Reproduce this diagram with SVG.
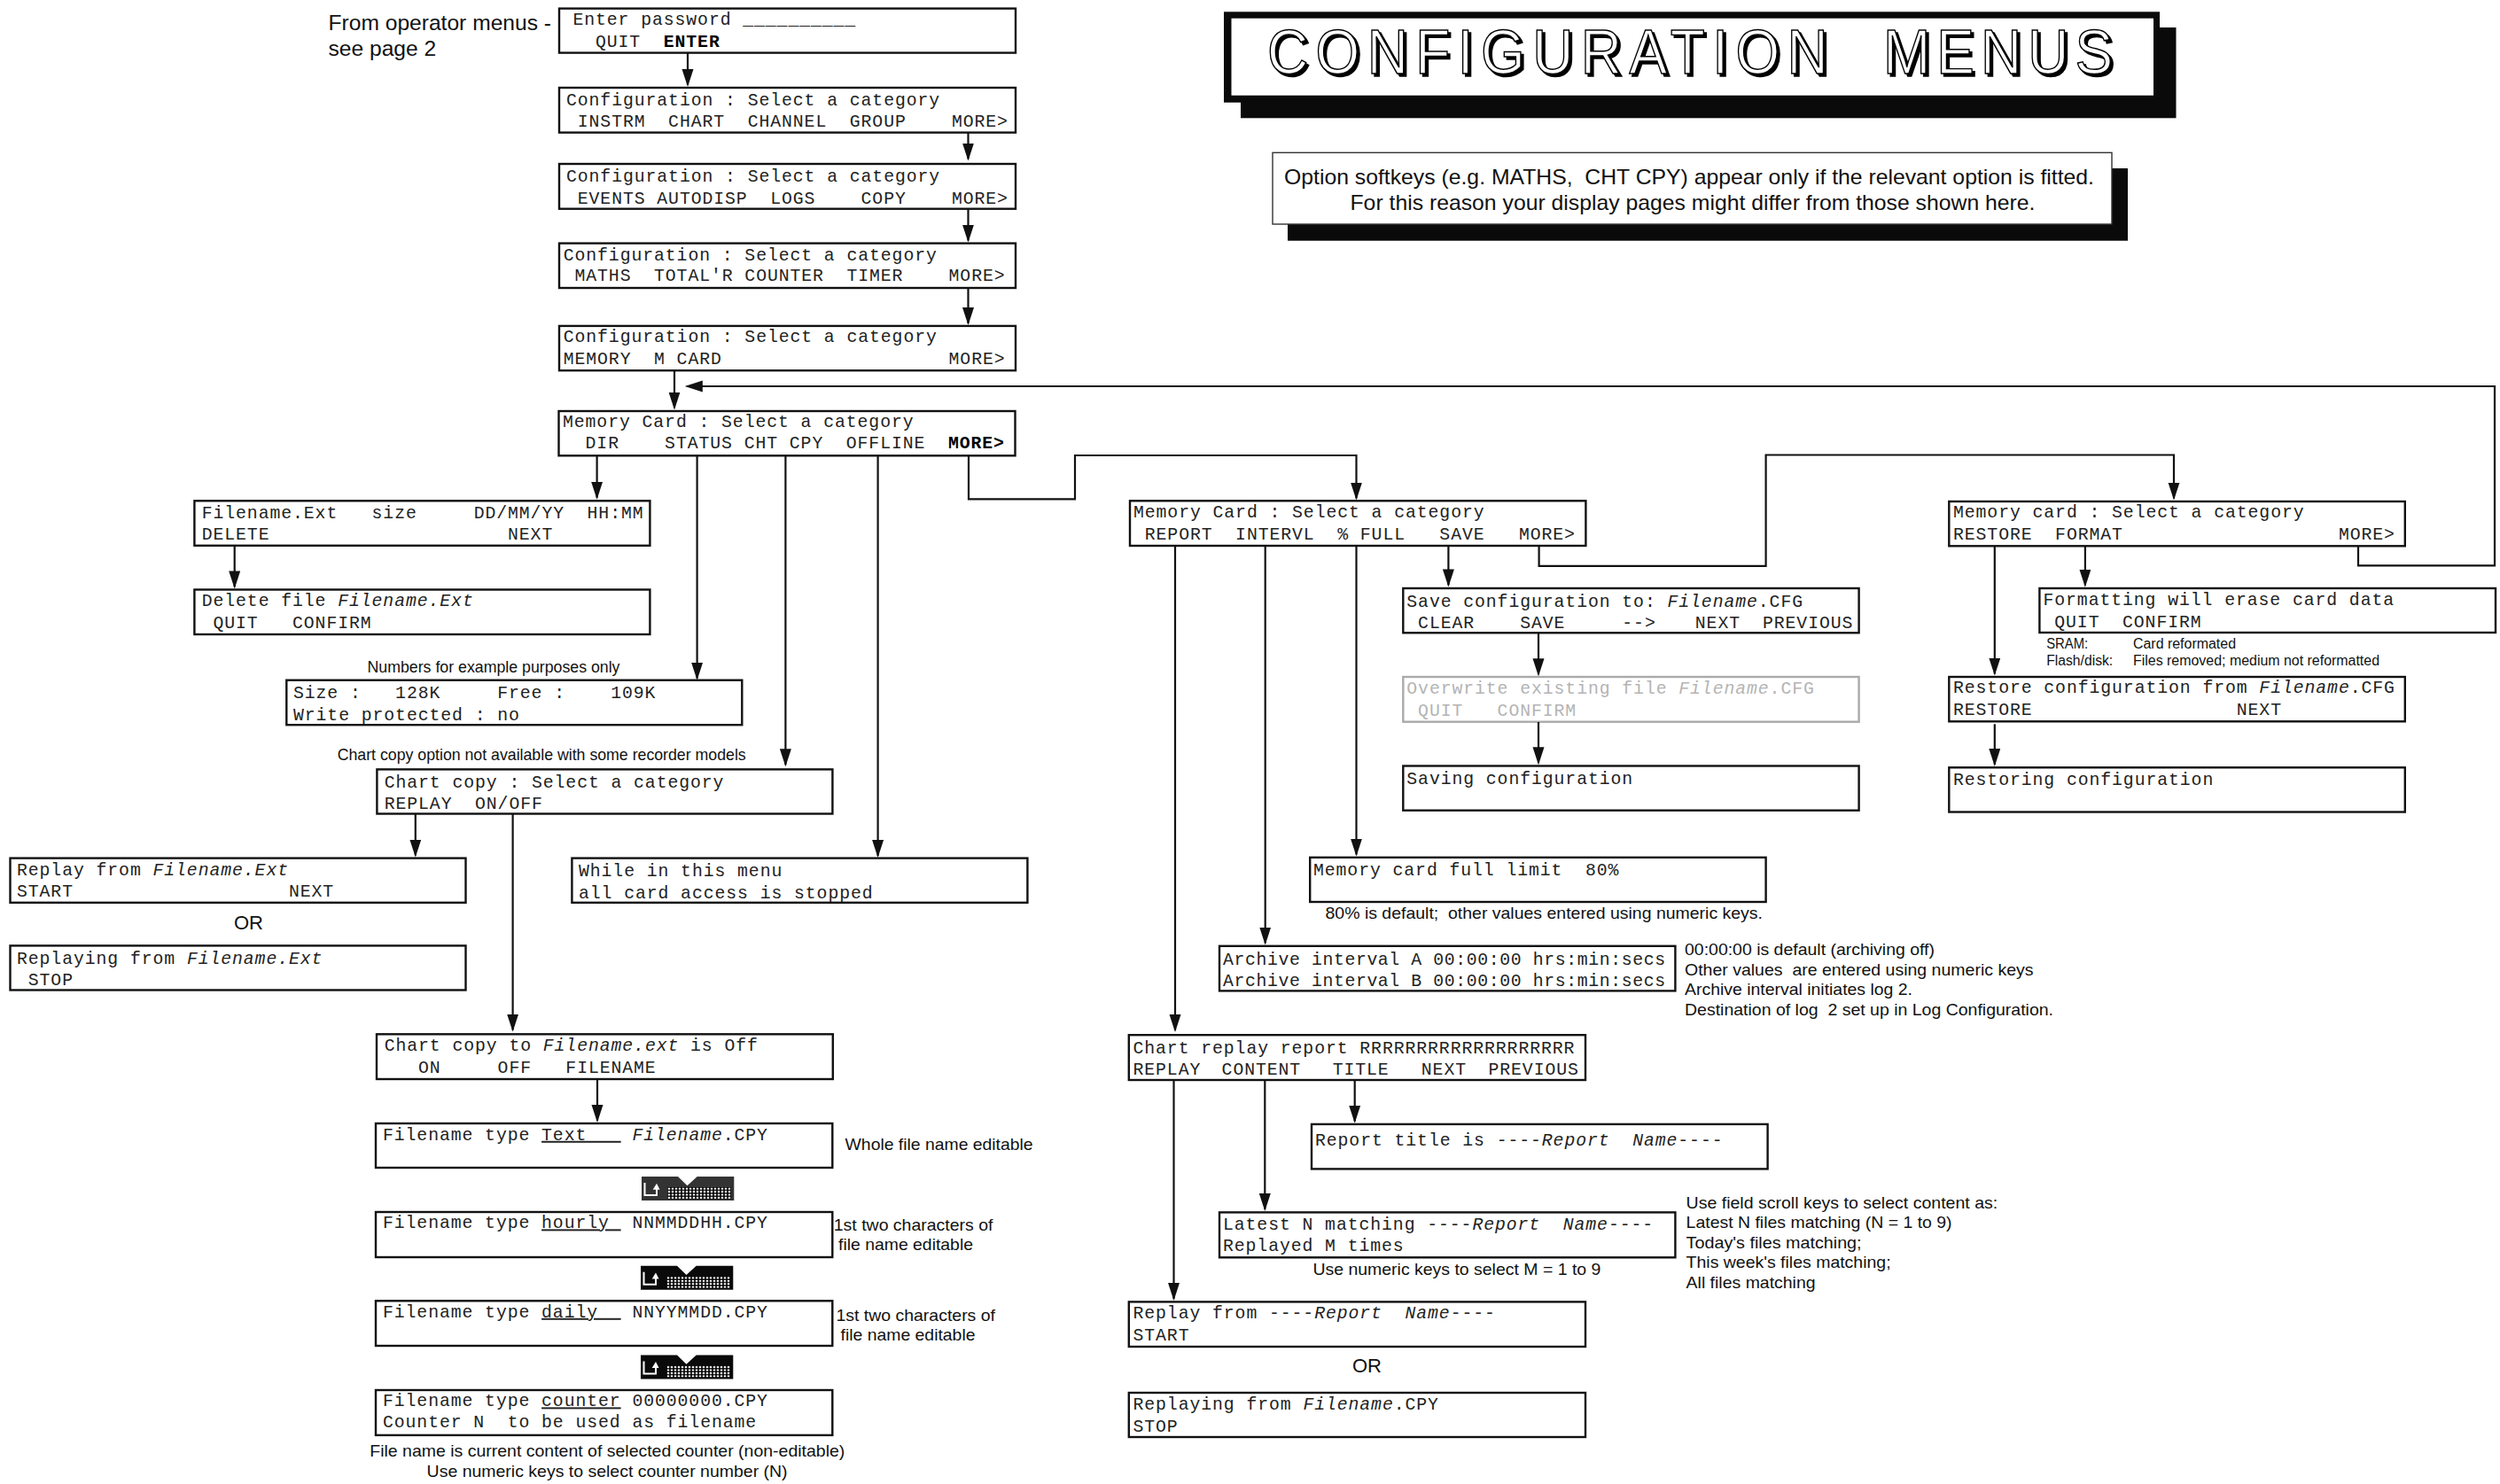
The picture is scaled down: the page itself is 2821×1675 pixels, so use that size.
<svg xmlns="http://www.w3.org/2000/svg" width="2821" height="1675" viewBox="0 0 2821 1675">
<style>
.box{fill:#fff;stroke:#111;stroke-width:2.4}
.grey{fill:#fff;stroke:#aaa;stroke-width:2.4}
.m{font-family:"Liberation Mono",monospace;font-size:19.8px;letter-spacing:.92px;white-space:pre;fill:#222}
.nar{letter-spacing:.62px}
.g{fill:#b4b4b4}
.i{font-style:italic}
.b{font-weight:bold;fill:#000}
.u{text-decoration:underline}
.s{font-family:"Liberation Sans",Arial,sans-serif;white-space:pre;fill:#111}
.s18{font-size:18.5px}
.s16{font-size:16px}
.s24{font-size:24.6px}
.c{fill:none;stroke:#111;stroke-width:2.2;marker-end:url(#ah)}
.tt{font-family:"Liberation Sans",Arial,sans-serif;font-size:71px;white-space:pre}
</style>
<defs>
<marker id="ah" markerUnits="userSpaceOnUse" markerWidth="22" markerHeight="15" refX="18" refY="6.5" orient="auto"><path d="M0,0L20,6.5L0,13Z" fill="#111"/></marker>
<pattern id="keys" patternUnits="userSpaceOnUse" width="4" height="3.4" x="753" y="1340"><rect width="4" height="3.4" fill="#000"/><rect x=".8" y=".7" width="2.4" height="2" fill="#fff"/></pattern>
<g id="enterkey">
<path d="M724,1328H765L775.5,1338.3L786.7,1328H828.3V1355H724Z"/>
<rect x="753.3" y="1340" width="71.7" height="13.4" fill="url(#keys)"/>
<path d="M727.5,1335V1349H741V1341" fill="none" stroke="#fff" stroke-width="2"/>
<path d="M736.7,1342.7L741,1335.7L744.5,1342.7Z" fill="#fff"/>
</g>
</defs>

<g id="title">
<rect x="1400" y="31" width="1055.5" height="102.3" fill="#0a0a0a"/>
<rect x="1381" y="13.3" width="1056" height="102.4" fill="#0a0a0a"/>
<rect x="1389.5" y="20.7" width="1040.5" height="87" fill="#fff"/>
<g fill="#000" stroke="#000" stroke-width="1.5">
<text class="tt" transform="matrix(.9 0 0 1 1433 86)" textLength="703">CONFIGURATION</text>
<text class="tt" transform="matrix(.9 0 0 1 2128 86)" textLength="288">MENUS</text>
</g>
<g fill="#fff" stroke="#000" stroke-width="1.5">
<text class="tt" transform="matrix(.9 0 0 1 1430 83)" textLength="703">CONFIGURATION</text>
<text class="tt" transform="matrix(.9 0 0 1 2125 83)" textLength="288">MENUS</text>
</g>
</g>

<g id="option-note">
<rect x="1453" y="190" width="948" height="81.7" fill="#0a0a0a"/>
<rect x="1436" y="172.3" width="947" height="80.7" fill="#fff" stroke="#333" stroke-width="1.4"/>
<text class="s" font-size="24" x="1449" y="208" textLength="914" lengthAdjust="spacingAndGlyphs">Option softkeys (e.g. MATHS,  CHT CPY) appear only if the relevant option is fitted.</text>
<text class="s" font-size="24" x="1523.5" y="237.3" textLength="773" lengthAdjust="spacingAndGlyphs">For this reason your display pages might differ from those shown here.</text>
</g>

<g id="labels">
<text class="s s24" x="370.5" y="34">From operator menus -</text>
<text class="s s24" x="370.5" y="62.5">see page 2</text>
<text class="s s18" x="414.5" y="759.3" textLength="285" lengthAdjust="spacingAndGlyphs">Numbers for example purposes only</text>
<text class="s s18" x="380.7" y="858.4" textLength="461" lengthAdjust="spacingAndGlyphs">Chart copy option not available with some recorder models</text>
<text class="s s18" x="953.6" y="1297.7" textLength="212" lengthAdjust="spacingAndGlyphs">Whole file name editable</text>
<text class="s s18" x="940.8" y="1388.5" textLength="179.6" lengthAdjust="spacingAndGlyphs">1st two characters of</text>
<text class="s s18" x="946" y="1410.6" textLength="152" lengthAdjust="spacingAndGlyphs">file name editable</text>
<text class="s s18" x="943.4" y="1490.5" textLength="179.6" lengthAdjust="spacingAndGlyphs">1st two characters of</text>
<text class="s s18" x="948.5" y="1512.7" textLength="152" lengthAdjust="spacingAndGlyphs">file name editable</text>
<text class="s s18" x="417.3" y="1644.4" textLength="536" lengthAdjust="spacingAndGlyphs">File name is current content of selected counter (non-editable)</text>
<text class="s s18" x="481.6" y="1667.3" textLength="407" lengthAdjust="spacingAndGlyphs">Use numeric keys to select counter number (N)</text>
<text class="s s18" x="1495.5" y="1037" textLength="493.5" lengthAdjust="spacingAndGlyphs">80% is default;  other values entered using numeric keys.</text>
<text class="s s18" x="1901" y="1078.3" textLength="282" lengthAdjust="spacingAndGlyphs">00:00:00 is default (archiving off)</text>
<text class="s s18" x="1901" y="1100.5" textLength="393.5" lengthAdjust="spacingAndGlyphs">Other values  are entered using numeric keys</text>
<text class="s s18" x="1901" y="1123.4" textLength="257" lengthAdjust="spacingAndGlyphs">Archive interval initiates log 2.</text>
<text class="s s18" x="1901" y="1145.6" textLength="416" lengthAdjust="spacingAndGlyphs">Destination of log  2 set up in Log Configuration.</text>
<text class="s s18" x="1481.4" y="1438.8" textLength="325" lengthAdjust="spacingAndGlyphs">Use numeric keys to select M = 1 to 9</text>
<text class="s s18" x="1902.6" y="1363.8" textLength="351.6" lengthAdjust="spacingAndGlyphs">Use field scroll keys to select content as:</text>
<text class="s s18" x="1902.6" y="1386" textLength="300" lengthAdjust="spacingAndGlyphs">Latest N files matching (N = 1 to 9)</text>
<text class="s s18" x="1902.6" y="1409" textLength="198" lengthAdjust="spacingAndGlyphs">Today's files matching;</text>
<text class="s s18" x="1902.6" y="1431" textLength="231" lengthAdjust="spacingAndGlyphs">This week's files matching;</text>
<text class="s s18" x="1902.6" y="1454" textLength="146" lengthAdjust="spacingAndGlyphs">All files matching</text>
<text class="s s16" x="2309.2" y="732.3" textLength="47" lengthAdjust="spacingAndGlyphs">SRAM:</text>
<text class="s s16" x="2407" y="732.3" textLength="116" lengthAdjust="spacingAndGlyphs">Card reformated</text>
<text class="s s16" x="2309.2" y="751.2" textLength="75" lengthAdjust="spacingAndGlyphs">Flash/disk:</text>
<text class="s s16" x="2407" y="751.2" textLength="278" lengthAdjust="spacingAndGlyphs">Files removed; medium not reformatted</text>
<text class="s" font-size="22" x="264" y="1049">OR</text>
<text class="s" font-size="22" x="1526" y="1549">OR</text>
</g>

<g id="n-password"><rect class="box" x="631" y="9.6" width="515" height="50"/>
<text class="m" x="646.4" y="27.9">Enter password __________</text>
<text class="m" x="646.4" y="52.9">  QUIT  <tspan class="b">ENTER</tspan></text></g>

<g id="n-config1"><rect class="box" x="631" y="99" width="515" height="50.6"/>
<text class="m" x="639" y="118.6">Configuration : Select a category</text>
<text class="m" x="639" y="142.9"> INSTRM  CHART  CHANNEL  GROUP    MORE&gt;</text></g>

<g id="n-config2"><rect class="box" x="631" y="185" width="515" height="50.7"/>
<text class="m" x="639" y="204.6">Configuration : Select a category</text>
<text class="m" x="639" y="229.6"> EVENTS AUTODISP  LOGS    COPY    MORE&gt;</text></g>

<g id="n-config3"><rect class="box" x="631" y="274.6" width="515" height="50.4"/>
<text class="m" x="635.7" y="293.6">Configuration : Select a category</text>
<text class="m" x="635.7" y="317"> MATHS  TOTAL'R COUNTER  TIMER    MORE&gt;</text></g>

<g id="n-config4"><rect class="box" x="631" y="367.9" width="515" height="50.3"/>
<text class="m" x="635.7" y="386.4">Configuration : Select a category</text>
<text class="m" x="635.7" y="410.7">MEMORY  M CARD                    MORE&gt;</text></g>

<g id="n-memcard1"><rect class="box" x="630.5" y="464" width="515" height="50.3"/>
<text class="m" x="635" y="482">Memory Card : Select a category</text>
<text class="m" x="635" y="506">  DIR    STATUS CHT CPY  OFFLINE  <tspan class="b">MORE&gt;</tspan></text></g>

<g id="n-dir"><rect class="box" x="219.4" y="565.3" width="514" height="50.5"/>
<text class="m" x="227.7" y="584.8">Filename.Ext   size     DD/MM/YY  HH:MM</text>
<text class="m" x="227.7" y="609.3">DELETE                     NEXT</text></g>

<g id="n-delete"><rect class="box" x="219.4" y="665.5" width="514" height="50.5"/>
<text class="m" x="227.7" y="684.3">Delete file <tspan class="i">Filename.Ext</tspan></text>
<text class="m" x="227.7" y="708.8"> QUIT   CONFIRM</text></g>

<g id="n-status"><rect class="box" x="323.3" y="767.7" width="514" height="50.5"/>
<text class="m" x="331" y="788">Size :   128K     Free :    109K</text>
<text class="m" x="331" y="812.9">Write protected : no</text></g>

<g id="n-chartcopy"><rect class="box" x="425.4" y="868.4" width="514" height="50.1"/>
<text class="m" x="433.7" y="889">Chart copy : Select a category</text>
<text class="m" x="433.7" y="913">REPLAY  ON/OFF</text></g>

<g id="n-replay"><rect class="box" x="11.5" y="968.6" width="514" height="50.2"/>
<text class="m" x="19" y="987.8">Replay from <tspan class="i">Filename.Ext</tspan></text>
<text class="m" x="19" y="1012.3">START                   NEXT</text></g>

<g id="n-replaying"><rect class="box" x="11.5" y="1067.4" width="514" height="50.1"/>
<text class="m" x="19" y="1088.4">Replaying from <tspan class="i">Filename.Ext</tspan></text>
<text class="m" x="19" y="1112"> STOP</text></g>

<g id="n-offline"><rect class="box" x="645.4" y="968.6" width="514" height="50.2"/>
<text class="m" x="653" y="989">While in this menu</text>
<text class="m" x="653" y="1013.8">all card access is stopped</text></g>

<g id="n-chartcopyto"><rect class="box" x="425" y="1167.3" width="514.8" height="50.7"/>
<text class="m" x="433.7" y="1186">Chart copy to <tspan class="i">Filename.ext</tspan> is Off</text>
<text class="m" x="433.7" y="1211">   ON     OFF   FILENAME</text></g>

<g id="n-ftext"><rect class="box" x="424" y="1268" width="515.3" height="50"/>
<text class="m" x="432" y="1286.8">Filename type <tspan class="u">Text   </tspan> <tspan class="i">Filename</tspan>.CPY</text></g>

<g id="n-fhourly"><rect class="box" x="424" y="1368" width="515.3" height="51"/>
<text class="m" x="432" y="1386.4">Filename type <tspan class="u">hourly </tspan> NNMMDDHH.CPY</text></g>

<g id="n-fdaily"><rect class="box" x="424" y="1468.3" width="515.3" height="50.7"/>
<text class="m" x="432" y="1486.8">Filename type <tspan class="u">daily  </tspan> NNYYMMDD.CPY</text></g>

<g id="n-fcounter"><rect class="box" x="424" y="1569" width="515.3" height="50.9"/>
<text class="m" x="432" y="1587.4">Filename type <tspan class="u">counter</tspan> 00000000.CPY</text>
<text class="m" x="432" y="1611">Counter N  to be used as filename</text></g>

<g id="key1"><use href="#enterkey" fill="#333"/></g>
<g id="key2"><use href="#enterkey" fill="#0a0a0a" x="-1" y="100.7"/></g>
<g id="key3"><use href="#enterkey" fill="#0a0a0a" x="-1" y="201.4"/></g>

<g id="n-memcard2"><rect class="box" x="1275" y="565.3" width="514.4" height="50.7"/>
<text class="m" x="1279" y="583.7">Memory Card : Select a category</text>
<text class="m" x="1279" y="608.6"> REPORT  INTERVL  % FULL   SAVE   MORE&gt;</text></g>

<g id="n-save"><rect class="box" x="1583.3" y="664" width="514.3" height="50.3"/>
<text class="m" x="1587.3" y="684.5">Save configuration to: <tspan class="i">Filename</tspan>.CFG</text>
<text class="m" x="1587.3" y="709.4"> CLEAR    SAVE     --&gt;<tspan x="1912.8">NEXT</tspan><tspan x="1989">PREVIOUS</tspan></text></g>

<g id="n-overwrite"><rect class="grey" x="1583.3" y="764" width="514.3" height="50.7"/>
<text class="m g" x="1587.3" y="782.9">Overwrite existing file <tspan class="i">Filename</tspan>.CFG</text>
<text class="m g" x="1587.3" y="807.8"> QUIT   CONFIRM</text></g>

<g id="n-saving"><rect class="box" x="1583.3" y="864.5" width="514.3" height="50.2"/>
<text class="m" x="1587.3" y="884.5">Saving configuration</text></g>

<g id="n-full"><rect class="box" x="1478.2" y="967.8" width="514.4" height="50.2"/>
<text class="m" x="1482" y="987.8">Memory card full limit  80%</text></g>

<g id="n-archive"><rect class="box" x="1376" y="1067.8" width="514.4" height="50.6"/>
<text class="m nar" x="1380" y="1088.6">Archive interval A 00:00:00 hrs:min:secs</text>
<text class="m nar" x="1380" y="1112.6">Archive interval B 00:00:00 hrs:min:secs</text></g>

<g id="n-report"><rect class="box" x="1273.8" y="1168.2" width="515.2" height="50.8"/>
<text class="m" x="1278.5" y="1188.5">Chart replay report RRRRRRRRRRRRRRRRRRR</text>
<text class="m" x="1278.5" y="1213.4">REPLAY<tspan x="1378.6">CONTENT</tspan><tspan x="1503.7">TITLE</tspan><tspan x="1603.8">NEXT</tspan><tspan x="1679.5">PREVIOUS</tspan></text></g>

<g id="n-title"><rect class="box" x="1480" y="1268.9" width="514.6" height="50.5"/>
<text class="m" x="1484" y="1292.6">Report title is ----<tspan class="i">Report  Name</tspan>----</text></g>

<g id="n-latest"><rect class="box" x="1376" y="1368.4" width="514.4" height="50.9"/>
<text class="m" x="1380" y="1387.5">Latest N matching ----<tspan class="i">Report  Name</tspan>----</text>
<text class="m" x="1380" y="1412.4">Replayed M times</text></g>

<g id="n-replayfrom"><rect class="box" x="1273.8" y="1469.4" width="515.2" height="50.6"/>
<text class="m" x="1278.5" y="1487.7">Replay from ----<tspan class="i">Report  Name</tspan>----</text>
<text class="m" x="1278.5" y="1512.6">START</text></g>

<g id="n-replayingfrom"><rect class="box" x="1273.8" y="1572" width="515.2" height="50"/>
<text class="m" x="1278.5" y="1591">Replaying from <tspan class="i">Filename</tspan>.CPY</text>
<text class="m" x="1278.5" y="1616">STOP</text></g>

<g id="n-memcard3"><rect class="box" x="2199.3" y="566" width="514.5" height="50.3"/>
<text class="m" x="2204" y="584">Memory card : Select a category</text>
<text class="m" x="2204" y="609">RESTORE  FORMAT                   MORE&gt;</text></g>

<g id="n-format"><rect class="box" x="2301.4" y="664" width="514.6" height="50"/>
<text class="m" x="2305.5" y="683">Formatting will erase card data</text>
<text class="m" x="2305.5" y="708"> QUIT  CONFIRM</text></g>

<g id="n-restore"><rect class="box" x="2199.3" y="764" width="514.5" height="50.3"/>
<text class="m" x="2204" y="782.2">Restore configuration from <tspan class="i">Filename</tspan>.CFG</text>
<text class="m" x="2204" y="807.4">RESTORE                  NEXT</text></g>

<g id="n-restoring"><rect class="box" x="2199.3" y="866.3" width="514.5" height="50.2"/>
<text class="m" x="2204" y="886">Restoring configuration</text></g>

<g id="connectors">
<path class="c" d="M776 60V96"/>
<path class="c" d="M1092.5 150V179.5"/>
<path class="c" d="M1092.5 236V271.6"/>
<path class="c" d="M1092.5 325V365"/>
<path class="c" d="M761 418V460.5"/>
<path class="c" d="M2661 616V638.3H2815V436H774.8"/>
<path class="c" d="M673.6 515V561.7"/>
<path class="c" d="M786.6 515V765.7"/>
<path class="c" d="M886.4 515V863.3"/>
<path class="c" d="M990.6 515V966"/>
<path class="c" d="M1093 515V563.3H1213V514H1530.5V562.5"/>
<path class="c" d="M1736.6 616V638.8H1992.6V513.5H2453V562.6"/>
<path class="c" d="M264.7 616V662.4"/>
<path class="c" d="M468.8 918.5V965.5"/>
<path class="c" d="M578.6 918.5V1162.6"/>
<path class="c" d="M674 1218V1265"/>
<path class="c" d="M1634.4 616V660.4"/>
<path class="c" d="M1736 714V761.3"/>
<path class="c" d="M1736 815V861.3"/>
<path class="c" d="M1530.5 616V964.5"/>
<path class="c" d="M1427.7 616V1064.5"/>
<path class="c" d="M1326 616V1163"/>
<path class="c" d="M1528.7 1219V1265.7"/>
<path class="c" d="M1427.3 1219V1365"/>
<path class="c" d="M1324.5 1219V1465.9"/>
<path class="c" d="M2250.8 616V760.6"/>
<path class="c" d="M2352.9 616V660.7"/>
<path class="c" d="M2250.8 817.3V862.9"/>
</g>
</svg>
